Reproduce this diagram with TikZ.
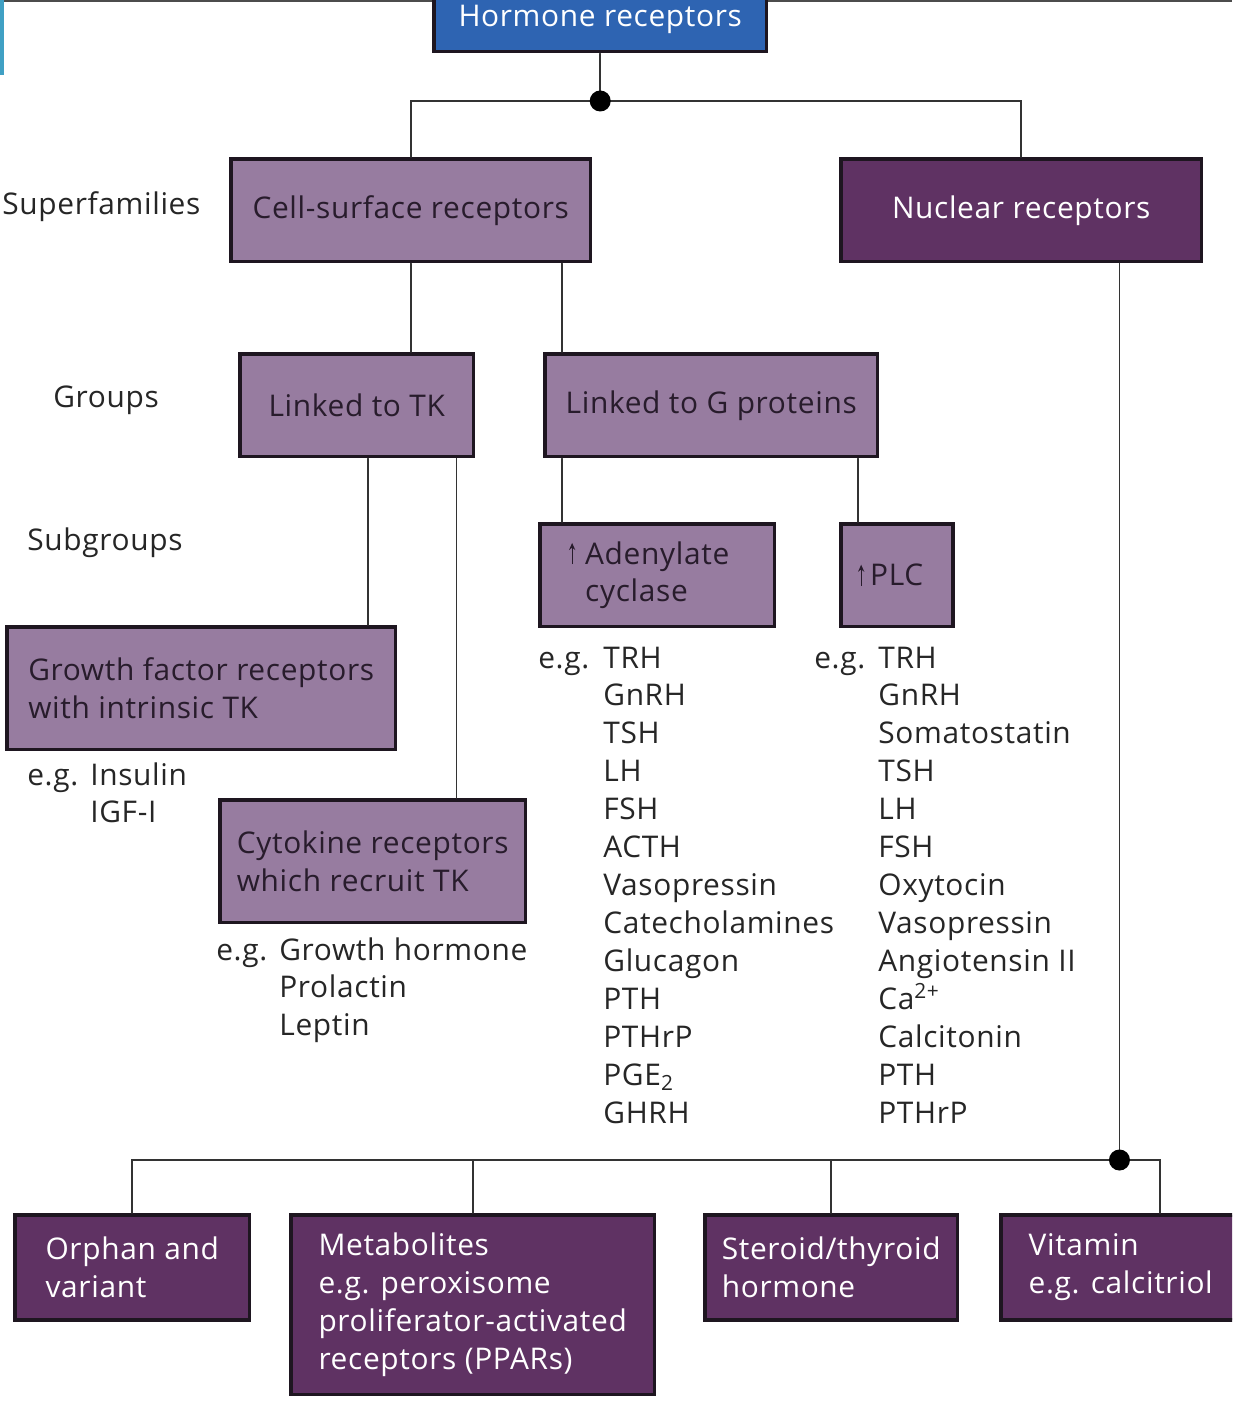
\documentclass[tikz,border=0pt]{standalone}
\usepackage{fontspec}
\setmainfont[LetterSpace=2.2]{Open Sans}
\usetikzlibrary{arrows.meta}
\definecolor{hrblue}{RGB}{46,100,178}
\definecolor{lilac}{RGB}{151,124,160}
\definecolor{plum}{RGB}{95,50,99}
\definecolor{boxline}{RGB}{30,22,32}
\definecolor{inktext}{RGB}{40,28,44}
\definecolor{tabcyan}{RGB}{64,160,196}
\newcommand{\upar}{\tikz[baseline]\draw[-{Stealth[length=4pt,width=3.5pt]},line width=0.7pt] (0,0) -- (0,12pt);}

\begin{document}
\begin{tikzpicture}[x=0.02cm,y=-0.02cm,line cap=round,
  font=\fontsize{17}{21.6}\selectfont,
  box/.style={draw=boxline,line width=2pt,inner sep=0pt,anchor=north west,align=left},
  litebox/.style={box,fill=lilac,text=inktext},
  darkbox/.style={box,fill=plum,text=white},
  note/.style={anchor=base west,inner sep=0pt,text=black!85},
  link/.style={draw=black!80,line width=1.1pt}]
\clip (0,0) rectangle (1232,1408);
\fill[black!70] (0,0) rectangle (1232,2);
\fill[tabcyan] (0,0) rectangle (4,75);

% top of the tree
\node[box,fill=hrblue,text=white,minimum width=6.66cm,minimum height=1.3cm] (horm) at (432,-15) {Hormone receptors};
\node[litebox,minimum width=7.2cm,minimum height=2.06cm] (cell) at (229,157) {Cell-surface receptors};
\node[darkbox,minimum width=7.22cm,minimum height=2.06cm] (nuc) at (839,157) {Nuclear receptors};

% row labels
\node[note] (lsup) at (2,215) {Superfamilies};
\node[note] (lgrp) at (53,408) {Groups};
\node[note] (lsub) at (27,550) {Subgroups};

% groups and subgroups
\node[litebox,minimum width=4.68cm,minimum height=2.06cm] (tk) at (238,352) {Linked to TK};
\node[litebox,minimum width=6.66cm,minimum height=2.06cm] (gp) at (543,352) {Linked to G proteins};
\node[litebox,minimum width=4.7cm,minimum height=2.06cm] (ac) at (538,522) {\llap{\upar\hspace{0.2cm}}Adenylate\\cyclase};
\node[litebox,minimum width=2.24cm,minimum height=2.06cm] (plc) at (839,522) {\llap{\upar\hspace{0.12cm}}PLC};
\node[litebox,minimum width=7.78cm,minimum height=2.46cm] (gf) at (5,625) {Growth factor receptors\\with intrinsic TK};
\node[litebox,minimum width=6.12cm,minimum height=2.46cm] (cy) at (218,798) {Cytokine receptors\\which recruit TK};

% examples
\node[note] (eggf) at (27,785) {\begin{tabular}[t]{@{}p{1.26cm}@{}l@{}}
e.g. & Insulin\\ & IGF-I\end{tabular}};
\node[note] (egcy) at (216,960) {\begin{tabular}[t]{@{}p{1.26cm}@{}l@{}}
e.g. & Growth hormone\\ & Prolactin\\ & Leptin\end{tabular}};
\node[note] (egac) at (538,668) {\begin{tabular}[t]{@{}p{1.3cm}@{}l@{}}
e.g. & TRH\\ & GnRH\\ & TSH\\ & LH\\ & FSH\\ & ACTH\\ & Vasopressin\\
 & Catecholamines\\ & Glucagon\\ & PTH\\ & PTHrP\\ & PGE\textsubscript{2}\\ & GHRH\end{tabular}};
\node[note] (egplc) at (814,668) {\begin{tabular}[t]{@{}p{1.28cm}@{}l@{}}
e.g. & TRH\\ & GnRH\\ & Somatostatin\\ & TSH\\ & LH\\ & FSH\\ & Oxytocin\\
 & Vasopressin\\ & Angiotensin II\\ & Ca\textsuperscript{2+}\\ & Calcitonin\\ & PTH\\ & PTHrP\end{tabular}};

% nuclear receptor classes
\node[darkbox,minimum width=4.7cm,minimum height=2.1cm] (orph) at (13,1213) {Orphan and\\variant};
\node[darkbox,minimum width=7.28cm,minimum height=3.6cm] (meta) at (289,1213) {Metabolites\\e.g. peroxisome\\proliferator-activated\\receptors (PPARs)};
\node[darkbox,minimum width=5.06cm,minimum height=2.1cm] (ster) at (703,1213) {Steroid/thyroid\\hormone};
\node[darkbox,minimum width=4.8cm,minimum height=2.1cm] (vit) at (999,1213) {Vitamin\\e.g. calcitriol};

% connectors
\coordinate (j1) at (horm.south |- 0,101);
\coordinate (g1) at ([xshift=0.38cm]gp.north west);
\coordinate (g2) at ([xshift=0.38cm]plc.north west);
\coordinate (t1) at ([xshift=-0.58cm]gf.north east);
\coordinate (t2) at ([xshift=-1.42cm]cy.north east);
\coordinate (n1) at ([xshift=-1.68cm]nuc.south east);
\coordinate (j2) at (n1 |- 0,1160);
\coordinate (v1) at ([xshift=3.22cm]vit.north west);

\draw[link] (horm.south) -- (j1);
\draw[link] (cell.north) |- (j1) -| (nuc.north);
\draw[link] (cell.south) -- (cell.south |- tk.north);
\draw[link] (g1) -- (g1 |- cell.south);
\draw[link] (g1 |- gp.south) -- (g1 |- ac.north);
\draw[link] (g2) -- (g2 |- gp.south);
\draw[link] (t1) -- (t1 |- tk.south);
\draw[link] (t2) -- (t2 |- tk.south);
\draw[link] (n1) -- (j2);
\draw[link] (orph.north) |- (v1 |- j2) -- (v1);
\draw[link] (meta.north) -- (meta.north |- j2);
\draw[link] (ster.north) -- (ster.north |- j2);
\fill[black] (j1) circle (0.21cm);
\fill[black] (j2) circle (0.21cm);
\end{tikzpicture}
\end{document}
